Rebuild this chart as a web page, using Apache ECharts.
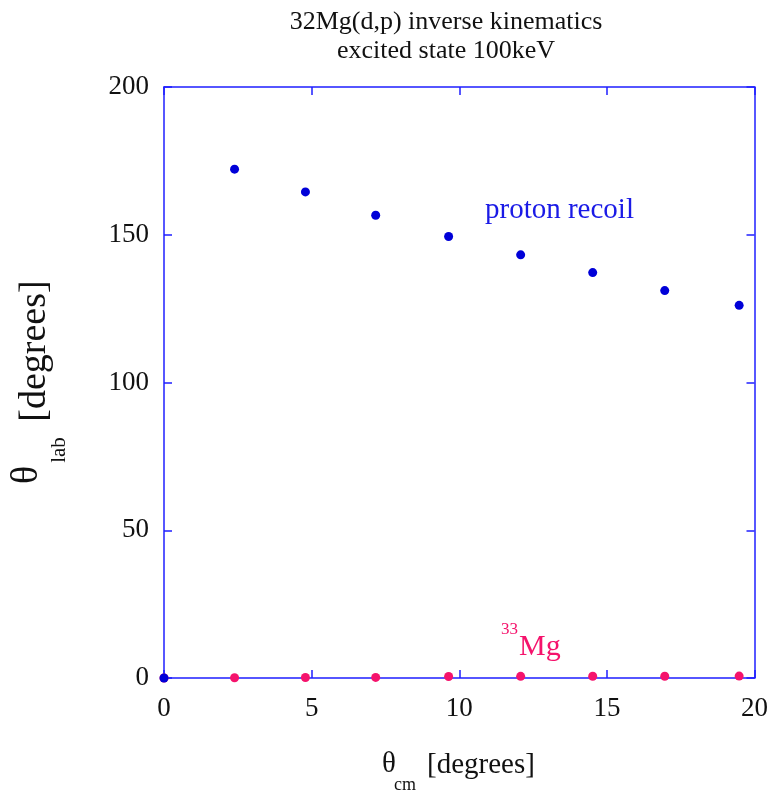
<!DOCTYPE html>
<html>
<head>
<meta charset="utf-8">
<script src="https://cdn.jsdelivr.net/npm/echarts@6/dist/echarts.min.js"></script>
<style>html,body{margin:0;padding:0;background:#fff;}#c{width:771px;height:794px;}</style>
</head>
<body>
<div id="c"></div>
<script>
var thetaCm = [2.39, 4.79, 7.17, 9.64, 12.08, 14.52, 16.96, 19.48];
var protonLab = [172.2, 164.5, 156.6, 149.4, 143.2, 137.2, 131.1, 126.1];
var mgLab = [0.1, 0.15, 0.2, 0.5, 0.55, 0.6, 0.6, 0.65];
var originPoint = [0, 0];
var xTicks = [0, 5, 10, 15, 20];
var yTicks = [0, 50, 100, 150, 200];

var FONT = '"Liberation Serif", "DejaVu Serif", serif';
var AXIS = '#1f1fff';
var BLUE = '#0000d8';
var PINK = '#f5136c';

var protonData = [originPoint].concat(thetaCm.map(function (x, i) { return [x, protonLab[i]]; }));
var mgData = [originPoint].concat(thetaCm.map(function (x, i) { return [x, mgLab[i]]; }));

var chart = echarts.init(document.getElementById('c'), null, {renderer: 'canvas'});
function axisCommon(showLabel, ticks, margin) {
  return {
    min: ticks[0], max: ticks[ticks.length - 1], interval: ticks[1] - ticks[0],
    axisLine: {show: true, onZero: false, lineStyle: {color: AXIS, width: 1.5}},
    axisTick: {show: true, inside: true, length: 8, lineStyle: {color: AXIS, width: 1.5}},
    axisLabel: {show: showLabel, color: '#111', fontFamily: FONT, fontSize: 27, margin: margin},
    splitLine: {show: false}
  };
}
var option = {
  animation: false,
  backgroundColor: '#fff',
  grid: {left: 164, top: 87, right: 14, bottom: 116, containLabel: false},
  xAxis: [
    Object.assign({type: 'value', position: 'bottom'}, axisCommon(true, xTicks, 17)),
    Object.assign({type: 'value', position: 'top'}, axisCommon(false, xTicks, 17))
  ],
  yAxis: [
    Object.assign({type: 'value', position: 'left'}, axisCommon(true, yTicks, 15)),
    Object.assign({type: 'value', position: 'right'}, axisCommon(false, yTicks, 15))
  ],
  series: [
    {type: 'scatter', data: mgData, symbolSize: 9, itemStyle: {color: PINK, opacity: 1}, z: 2},
    {type: 'scatter', data: protonData.slice(0, 1), symbolSize: 9, itemStyle: {color: BLUE, opacity: 1}, z: 3},
    {type: 'scatter', data: protonData.slice(1), symbolSize: 9, itemStyle: {color: BLUE, opacity: 1}, z: 3}
  ],
  graphic: [
    {type: 'text', x: 446, y: 22, style: {text: '32Mg(d,p) inverse kinematics', font: '26px ' + FONT, fill: '#111', textAlign: 'center', textVerticalAlign: 'middle'}},
    {type: 'text', x: 446, y: 51, style: {text: 'excited state 100keV', font: '26px ' + FONT, fill: '#111', textAlign: 'center', textVerticalAlign: 'middle'}},
    {type: 'text', x: 485, y: 210, style: {text: 'proton recoil', font: '29px ' + FONT, fill: '#1a1ae6', textAlign: 'left', textVerticalAlign: 'middle'}},
    {type: 'text', x: 501, y: 630, style: {text: '33', font: '17px ' + FONT, fill: PINK, textAlign: 'left', textVerticalAlign: 'middle'}},
    {type: 'text', x: 519, y: 647, style: {text: 'Mg', font: '30px ' + FONT, fill: PINK, textAlign: 'left', textVerticalAlign: 'middle'}},
    {type: 'text', x: 389, y: 764, style: {text: 'θ', font: '29px ' + FONT, fill: '#111', textAlign: 'center', textVerticalAlign: 'middle'}},
    {type: 'text', x: 405, y: 785, style: {text: 'cm', font: '18px ' + FONT, fill: '#111', textAlign: 'center', textVerticalAlign: 'middle'}},
    {type: 'text', x: 481, y: 765, style: {text: '[degrees]', font: '29px ' + FONT, fill: '#111', textAlign: 'center', textVerticalAlign: 'middle'}},
    {type: 'text', x: 27, y: 475, rotation: Math.PI / 2, style: {text: 'θ', font: '38px ' + FONT, fill: '#111', textAlign: 'center', textVerticalAlign: 'middle'}},
    {type: 'text', x: 59, y: 450, rotation: Math.PI / 2, style: {text: 'lab', font: '21px ' + FONT, fill: '#111', textAlign: 'center', textVerticalAlign: 'middle'}},
    {type: 'text', x: 35, y: 351, rotation: Math.PI / 2, style: {text: '[degrees]', font: '38px ' + FONT, fill: '#111', textAlign: 'center', textVerticalAlign: 'middle'}}
  ]
};
chart.setOption(option);
</script>
</body>
</html>
